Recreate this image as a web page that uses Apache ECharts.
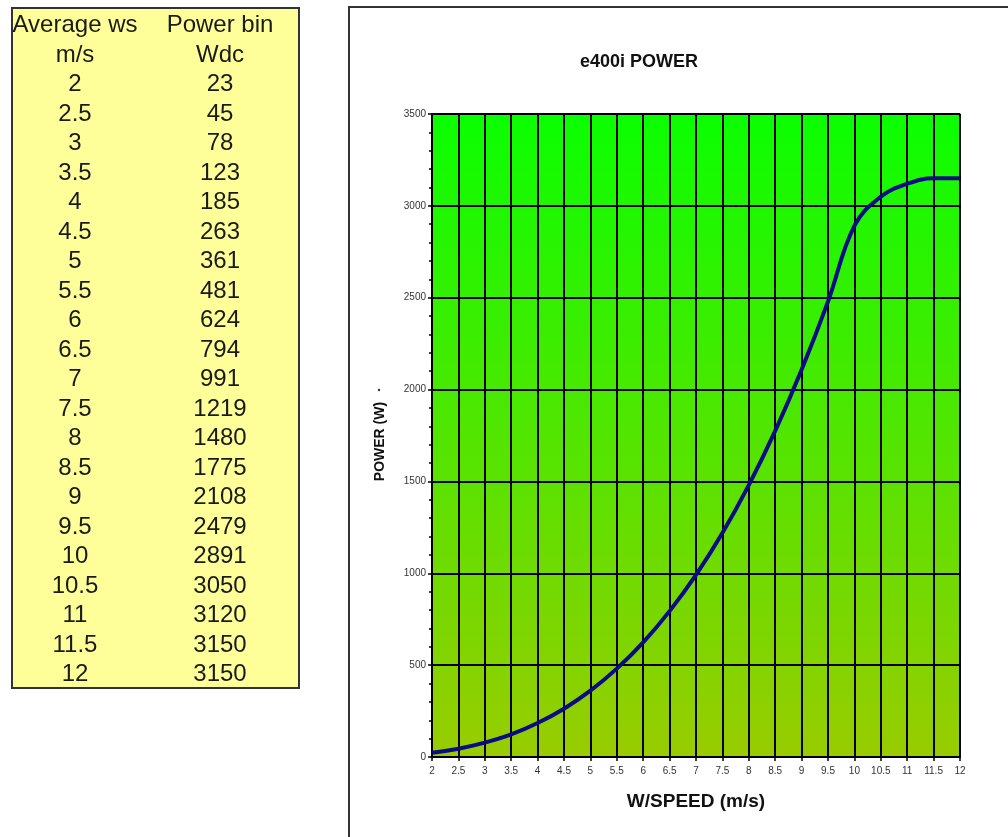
<!DOCTYPE html>
<html>
<head>
<meta charset="utf-8">
<style>
  html, body { margin: 0; padding: 0; background: #fff; }
  #chart { width: 1008px; height: 837px; }
</style>
<script src="https://cdn.jsdelivr.net/npm/echarts@6/dist/echarts.min.js"></script>
</head>
<body>
<div id="chart"></div>
<script>
// Wind speed bins (m/s) and the DC power measured in each bin (W)
const windSpeeds = [2, 2.5, 3, 3.5, 4, 4.5, 5, 5.5, 6, 6.5, 7, 7.5, 8, 8.5, 9, 9.5, 10, 10.5, 11, 11.5, 12];
const powerValues = [23, 45, 78, 123, 185, 263, 361, 481, 624, 794, 991, 1219, 1480, 1775, 2108, 2479, 2891, 3050, 3120, 3150, 3150];
const tableHeaders = [["Average ws", "Power bin"], ["m/s", "Wdc"]];
const chartTitle = "e400i POWER";
const xAxisTitle = "W/SPEED (m/s)";
const yAxisTitle = "POWER (W)";

const chart = echarts.init(document.getElementById('chart'), null, { renderer: 'canvas' });

const baseFont = '"Liberation Sans", Arial, sans-serif';
const tableFont = '24px ' + baseFont;
const colX = [75, 220];
const rowY0 = 25.6;
const rowStep = 29.5;

// Table of bins drawn beside the chart
const tableElements = [
  {
    type: 'rect',
    shape: { x: 12, y: 8, width: 287, height: 680 },
    style: { fill: '#FFFF99', stroke: '#333', lineWidth: 2 },
    z: 1
  }
];
const rows = tableHeaders.concat(windSpeeds.map((ws, i) => [String(ws), String(powerValues[i])]));
rows.forEach((row, r) => {
  row.forEach((txt, c) => {
    tableElements.push({
      type: 'text',
      x: colX[c],
      y: rowY0 + r * rowStep,
      style: { text: txt, font: tableFont, fill: '#1a1a1a', align: 'center', verticalAlign: 'middle' },
      z: 2
    });
  });
});

const option = {
  animation: false,
  backgroundColor: '#fff',
  title: {
    text: chartTitle,
    left: 634,
    top: 48,
    textAlign: 'center',
    textStyle: { fontFamily: baseFont, fontSize: 18, fontWeight: 'bold', color: '#111' }
  },
  grid: {
    left: 432,
    right: 48,
    top: 114,
    bottom: 80,
    show: true,
    borderColor: '#a0a0a0',
    borderWidth: 1.5,
    backgroundColor: {
      type: 'linear', x: 0, y: 0, x2: 0, y2: 1,
      colorStops: [
        { offset: 0, color: '#0AFF00' },
        { offset: 1, color: '#99CC00' }
      ]
    }
  },
  xAxis: {
    type: 'value',
    min: 2,
    max: 12,
    interval: 0.5,
    name: xAxisTitle,
    nameLocation: 'middle',
    nameGap: 35,
    nameTextStyle: { fontFamily: baseFont, fontSize: 19, fontWeight: 'bold', color: '#111' },
    axisLine: { show: true, onZero: false, lineStyle: { color: '#000', width: 2 } },
    axisTick: { show: true, length: 4, lineStyle: { color: '#000', width: 1.5 } },
    axisLabel: { fontFamily: baseFont, fontSize: 10, color: '#333', margin: 9 },
    splitLine: { show: true, lineStyle: { color: '#000', width: 2 } }
  },
  yAxis: {
    type: 'value',
    min: 0,
    max: 3500,
    interval: 500,
    name: yAxisTitle,
    nameLocation: 'middle',
    nameGap: 45,
    nameTextStyle: { fontFamily: baseFont, fontSize: 14, fontWeight: 'bold', color: '#111', padding: [0, 12, 0, 0] },
    axisLine: { show: true, lineStyle: { color: '#000', width: 2 } },
    axisTick: { show: true, length: 4, lineStyle: { color: '#000', width: 1.5 } },
    minorTick: { show: true, splitNumber: 5, length: 3, lineStyle: { color: '#000', width: 1.5 } },
    axisLabel: { fontFamily: baseFont, fontSize: 10, color: '#333', margin: 6, formatter: v => String(v) },
    splitLine: { show: true, lineStyle: { color: '#000', width: 2 } }
  },
  series: [{
    type: 'line',
    data: windSpeeds.map((ws, i) => [ws, powerValues[i]]),
    smooth: 0.4,
    symbol: 'none',
    lineStyle: { color: '#0B0B86', width: 4 },
    z: 5
  }],
  graphic: tableElements.concat([
    // frame around the chart panel
    {
      type: 'polyline',
      shape: { points: [[349, 900], [349, 7], [1010, 7]] },
      style: { stroke: '#333', lineWidth: 2, fill: null },
      z: 1
    },
    {
      type: 'circle',
      shape: { cx: 379, cy: 390, r: 1.2 },
      style: { fill: '#333' },
      z: 2
    }
  ])
};

chart.setOption(option);
</script>
</body>
</html>
